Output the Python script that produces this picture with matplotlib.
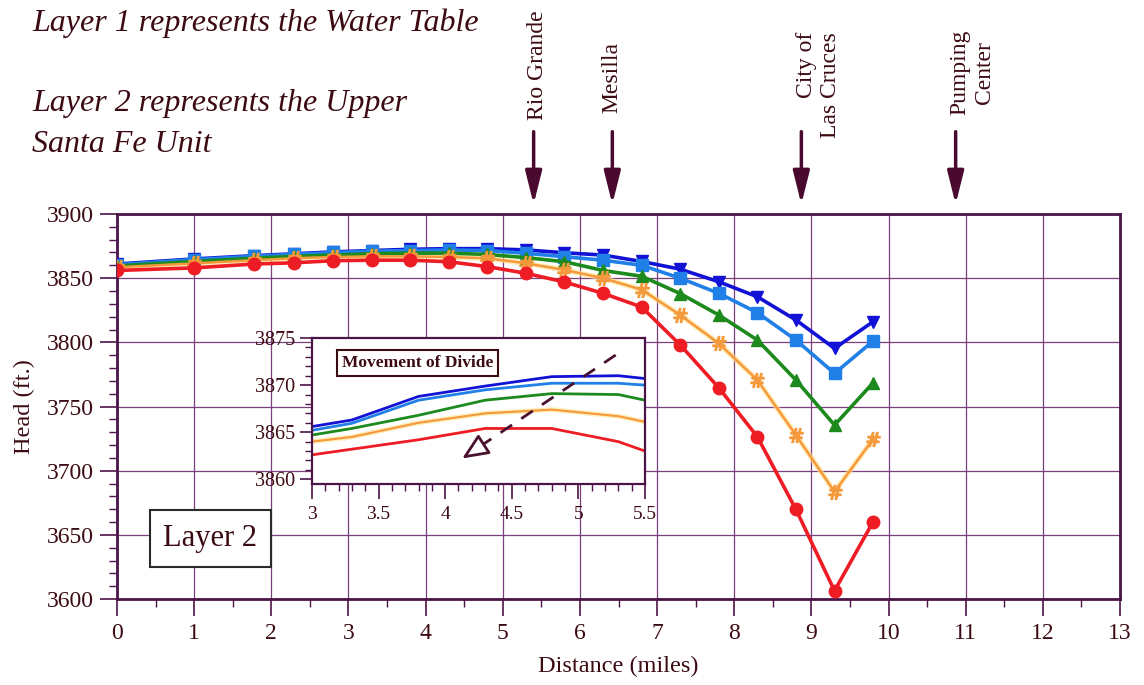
import matplotlib
matplotlib.use("Agg")
import matplotlib.pyplot as plt
import matplotlib.ticker as mticker

plt.rcParams["font.family"] = ["Liberation Serif", "DejaVu Serif"]

# Main chart data (distance in miles, head in ft)
dist = [0, 1.0, 1.77, 2.3, 2.8, 3.3, 3.8, 4.3, 4.8, 5.3, 5.8, 6.3, 6.8, 7.3, 7.8, 8.3, 8.8, 9.3, 9.8]
head_dark_blue = [3861, 3865, 3867.5, 3869, 3870.5, 3871.5, 3872.5, 3873, 3873, 3872, 3869.8, 3868, 3863,
                  3857, 3847.2, 3835.5, 3817.4, 3795.3, 3816.1]
head_light_blue = [3860.5, 3864.5, 3867, 3868.5, 3870, 3871, 3871.5, 3872, 3871.5, 3869.4, 3866.7, 3864, 3860,
                   3850, 3838.2, 3823.1, 3801.8, 3775.8, 3801]
head_green = [3859.5, 3863, 3865.5, 3867, 3868, 3869, 3869.5, 3869.5, 3868.5, 3866, 3862.8, 3856, 3851.5,
              3838, 3821.3, 3801.8, 3770.6, 3735.5, 3768.5]
head_orange = [3858.5, 3861.5, 3864, 3865.5, 3866.5, 3867, 3867, 3866.5, 3865.5, 3861.6, 3856.4, 3850, 3841,
               3821.3, 3799.2, 3770.6, 3727.7, 3683.6, 3724.6]
head_red = [3856, 3858, 3861, 3862, 3863.6, 3864, 3864, 3862.8, 3859, 3853.8, 3847, 3838.2, 3827.5,
            3798, 3764.6, 3726.4, 3669.8, 3606.4, 3660.2]

# Inset ("Movement of Divide") data
inset_x = [3.0, 3.3, 3.8, 4.3, 4.8, 5.3, 5.5]
inset_dark_blue = [3865.6, 3866.3, 3868.8, 3869.9, 3870.9, 3871.0, 3870.7]
inset_light_blue = [3865.2, 3865.95, 3868.4, 3869.5, 3870.2, 3870.2, 3870.0]
inset_green = [3864.7, 3865.4, 3866.8, 3868.4, 3869.1, 3869.0, 3868.4]
inset_orange = [3864.0, 3864.5, 3866.0, 3867.0, 3867.4, 3866.7, 3866.1]
inset_red = [3862.6, 3863.2, 3864.2, 3865.4, 3865.4, 3864.0, 3863.0]

# Landmarks along the section
landmarks = ["Rio Grande", "Mesilla", "City of\nLas Cruces", "Pumping\nCenter"]
landmark_x = [5.4, 6.42, 8.87, 10.87]

txt = "#3b0a12"
purple = "#4b1448"
grid_c = "#7b3f7b"

fig = plt.figure(figsize=(11.44, 6.85), dpi=100)
ax = fig.add_axes([0.1023, 0.1255, 0.8767, 0.5621])

series = [
    (head_dark_blue, "#1212d6", "v", 9),
    (head_light_blue, "#2080e8", "s", 9),
    (head_green, "#1c8a1c", "^", 9),
    (head_orange, "#f59a3c", r"$\#$", 10),
    (head_red, "#ee1c24", "o", 9),
]
for vals, c, m, ms in series:
    lw = 1.8 if c == "#f59a3c" else 2.6
    if c == "#f59a3c":
        ax.plot(dist, vals, color="#ffe08a", lw=4, alpha=0.6, zorder=2)
    ax.plot(dist, vals, color=c, lw=lw, marker=m, ms=ms, zorder=3)

ax.set_xlim(0, 13)
ax.set_ylim(3600, 3900)
ax.set_xticks(range(0, 14))
ax.set_yticks(range(3600, 3901, 50))
ax.xaxis.set_minor_locator(mticker.MultipleLocator(0.5))
ax.yaxis.set_minor_locator(mticker.MultipleLocator(10))
ax.tick_params(which="major", direction="out", length=12, width=1.2, color=purple,
               labelsize=17, labelcolor=txt, pad=5)
ax.tick_params(which="minor", direction="out", length=6, width=1.0, color=purple)
ax.grid(True, which="major", color=grid_c, lw=0.9)
for s in ax.spines.values():
    s.set_color(purple)
    s.set_linewidth(2)
ax.set_xlabel("Distance (miles)", fontsize=17.5, color=txt, labelpad=9)
ax.set_ylabel("Head (ft.)", fontsize=17.5, color=txt, labelpad=8)

ax.text(1.21, 3647, "Layer 2", ha="center", va="center", fontsize=22, color=txt, zorder=5,
        bbox=dict(boxstyle="square,pad=0.45", fc="white", ec="#2a2a2a", lw=1.5))

# Landmark arrows and labels
label_off = [(3, 68, "center", "center"), (0, 73, "center", "center"),
             (-4, 55, "left", "right"), (-4.5, 71, "left", "center")]
for name, lx, (dx, dy, ha, ma) in zip(landmarks, landmark_x, label_off):
    ax.annotate("", xy=(lx, 1.018), xycoords=("data", "axes fraction"),
                xytext=(lx, 1.221), textcoords=("data", "axes fraction"),
                arrowprops=dict(arrowstyle="-|>,head_length=1.0,head_width=0.25",
                                mutation_scale=20, lw=2.5, color="#4a0a30"),
                annotation_clip=False)
    ax.annotate(name, xy=(lx, 1.0), xycoords=("data", "axes fraction"),
                xytext=(dx, dy), textcoords="offset points", rotation=90,
                ha=ha, va="bottom", multialignment=ma, fontsize=17, color=txt,
                annotation_clip=False)

fig.text(32 / 1144, 1 - 23 / 685, "Layer 1 represents the Water Table", style="italic",
         fontsize=23, color=txt, va="center")
fig.text(32 / 1144, 1 - 104 / 685, "Layer 2 represents the Upper", style="italic",
         fontsize=23, color=txt, va="center")
fig.text(32 / 1144, 1 - 144 / 685, "Santa Fe Unit", style="italic",
         fontsize=23, color=txt, va="center")

# Inset
axi = fig.add_axes([0.2727, 0.2934, 0.2911, 0.2131])
axi.set_facecolor("white")
axi.plot(inset_x, inset_dark_blue, color="#1212d6", lw=2)
axi.plot(inset_x, inset_light_blue, color="#2080e8", lw=2)
axi.plot(inset_x, inset_green, color="#1c8a1c", lw=2)
axi.plot(inset_x, inset_orange, color="#ffe08a", lw=3.5, alpha=0.6)
axi.plot(inset_x, inset_orange, color="#f59a3c", lw=1.5)
axi.plot(inset_x, inset_red, color="#ee1c24", lw=2)
axi.set_xlim(3, 5.5)
axi.set_ylim(3859.5, 3875)
axi.set_xticks([3, 3.5, 4, 4.5, 5, 5.5])
axi.set_xticklabels(["3", "3.5", "4", "4.5", "5", "5.5"])
axi.set_yticks([3860, 3865, 3870, 3875])
axi.xaxis.set_minor_locator(mticker.MultipleLocator(0.1))
axi.yaxis.set_minor_locator(mticker.MultipleLocator(1))
axi.tick_params(axis="x", which="major", direction="out", length=11, width=1.2, color=purple,
                labelsize=14, labelcolor=txt, pad=5)
axi.tick_params(axis="y", which="major", direction="out", length=9, width=1.2, color=purple,
                labelsize=14.5, labelcolor=txt, pad=3)
axi.tick_params(which="minor", direction="out", length=5, width=1.0, color=purple)
for s in axi.spines.values():
    s.set_color(purple)
    s.set_linewidth(1.6)

# Divide movement arrow
axi.plot([5.28, 4.2], [3873.2, 3862.9], ls=(0, (5, 4)), color="#4a1030", lw=2)
axi.annotate("", xy=(4.11, 3862.05), xytext=(4.3, 3863.8),
             arrowprops=dict(arrowstyle="-|>,head_length=0.8,head_width=0.35",
                             mutation_scale=20, lw=2, color="#4a1030", fc="white"))
axi.text(0.317, 0.83, "Movement of Divide", transform=axi.transAxes, ha="center", va="center",
         fontsize=12.5, fontweight="bold", color=txt,
         bbox=dict(boxstyle="square,pad=0.3", fc="white", ec=txt, lw=1.5))

fig.savefig("out.png", dpi=100)
